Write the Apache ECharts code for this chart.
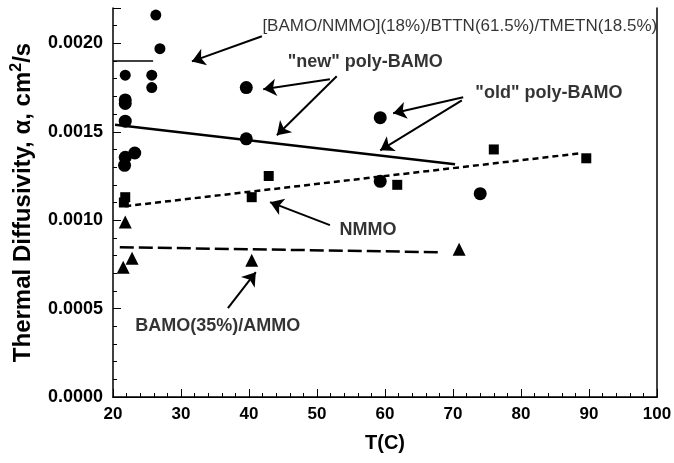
<!DOCTYPE html>
<html>
<head>
<meta charset="utf-8">
<script src="https://cdn.jsdelivr.net/npm/echarts@6/dist/echarts.min.js"></script>
<style>
  html, body { margin: 0; padding: 0; background: #fff; }
  #chart { width: 674px; height: 463px; }
</style>
</head>
<body>
<div id="chart"></div>
<script>
// Thermal diffusivity vs temperature for several energetic binders

// [BAMO/NMMO](18%)/BTTN(61.5%)/TMETN(18.5%)
const mixT = [26.3, 26.9, 25.7, 25.7, 21.8];
const mixV = [0.00216, 0.00197, 0.00182, 0.00175, 0.00182];
const mixFitT = [20, 25.9];
const mixFitV = [0.0019, 0.0019];

// "new" poly-BAMO
const newT = [21.8, 21.8, 21.8, 23.2, 21.8, 21.7, 39.6, 39.6];
const newV = [0.00168, 0.00166, 0.00156, 0.00138, 0.001356, 0.00131, 0.00175, 0.00146];
const newFitT = [20.3, 70.3];
const newFitV = [0.00154, 0.001316];

// "old" poly-BAMO
const oldT = [59.3, 59.3, 74.0];
const oldV = [0.00158, 0.00122, 0.00115];

// NMMO
const nmmoT = [21.8, 21.6, 40.4, 42.9, 61.8, 76.0, 89.6];
const nmmoV = [0.00113, 0.00110, 0.00113, 0.00125, 0.00120, 0.00140, 0.00135];
const nmmoFitT = [21.8, 88.7];
const nmmoFitV = [0.001079, 0.001378];

// BAMO(35%)/AMMO
const ammoT = [21.8, 21.5, 22.8, 40.4, 70.9];
const ammoV = [0.00099, 0.000734, 0.000785, 0.000774, 0.000836];
const ammoFitT = [21.0, 67.8];
const ammoFitV = [0.000847, 0.000819];

// Axis ticks
const xTicks = [20, 30, 40, 50, 60, 70, 80, 90, 100];
const yTicks = [0.0000, 0.0005, 0.0010, 0.0015, 0.0020];

// Text callouts and their arrows (data coordinates)
const labelText = ['[BAMO/NMMO](18%)/BTTN(61.5%)/TMETN(18.5%)', '"new" poly-BAMO', '"old" poly-BAMO', 'NMMO', 'BAMO(35%)/AMMO'];
const labelT = [71.0, 57.1, 84.1, 57.5, 35.4];
const labelV = [0.002096, 0.001893, 0.001718, 0.000944, 0.000401];
const labelBold = [false, true, true, true, true];
const labelSize = [17, 18, 18, 18, 18];
const arrowFrom = [[41.9, 0.00204], [51.9, 0.001797], [52.9, 0.001814], [71.5, 0.001695], [71.3, 0.001678], [51.9, 0.000972], [36.9, 0.000503]];
const arrowTo = [[31.6, 0.001898], [42.1, 0.00174], [44.1, 0.00148], [61.2, 0.001605], [59.3, 0.001395], [43.1, 0.001102], [41.0, 0.000706]];

const zip = (a, b) => a.map((v, i) => [v, b[i]]);
const font = 'Liberation Sans, Arial, Helvetica, sans-serif';
const ink = '#000';

function scatter(name, t, v, symbol, size) {
  return {
    name, type: 'scatter', data: zip(t, v), symbol, symbolSize: size,
    itemStyle: { color: ink, opacity: 1 }, z: 5
  };
}
function fit(name, t, v, type, width) {
  return {
    name, type: 'line', data: zip(t, v), showSymbol: false, symbol: 'none',
    lineStyle: { color: ink, width, type }, z: 4
  };
}

const chart = echarts.init(document.getElementById('chart'));
chart.setOption({
  backgroundColor: '#fff',
  animation: false,
  grid: { left: 113, right: 17, top: 8, bottom: 66, outerBoundsMode: 'none', containLabel: false },
  xAxis: [{
    type: 'value', min: 20, max: 100, interval: 10,
    name: 'T(C)', nameLocation: 'middle', nameGap: 36,
    nameTextStyle: { fontFamily: font, fontWeight: 'bold', fontSize: 20, color: ink },
    axisLine: { lineStyle: { color: ink, width: 1.5 } },
    axisTick: { inside: true, length: 8, lineStyle: { color: ink } },
    minorTick: { show: true, splitNumber: 5, length: 4, lineStyle: { color: ink } },
    axisLabel: { fontFamily: font, fontWeight: 'bold', fontSize: 17, color: ink, margin: 9,
      formatter: v => xTicks.includes(v) ? String(v) : '' },
    splitLine: { show: false }
  }, {
    type: 'value', min: 20, max: 100, position: 'top',
    axisLine: { show: true, lineStyle: { color: ink, width: 1 } },
    axisTick: { show: false }, axisLabel: { show: false }, splitLine: { show: false }
  }],
  yAxis: [{
    type: 'value', min: 0, max: 0.0022, interval: 0.0005,
    name: '{a|Thermal Diffusivity, α, cm}{s|2}{a|/s}', nameLocation: 'middle', nameGap: 76,
    nameTextStyle: {
      rich: {
        a: { fontFamily: font, fontWeight: 'bold', fontSize: 24, color: ink },
        s: { fontFamily: font, fontWeight: 'bold', fontSize: 16, color: ink, padding: [0, 0, 12, 0] }
      }
    },
    axisLine: { lineStyle: { color: ink, width: 1.5 } },
    axisTick: { inside: true, length: 8, lineStyle: { color: ink } },
    minorTick: { show: true, splitNumber: 5, length: 4, lineStyle: { color: ink } },
    axisLabel: { fontFamily: font, fontWeight: 'bold', fontSize: 18, color: ink, margin: 10,
      formatter: v => {
        const hit = yTicks.find(t => Math.abs(t - v) < 1e-9);
        return hit === undefined ? '' : hit.toFixed(4);
      } },
    splitLine: { show: false }
  }, {
    type: 'value', min: 0, max: 0.0022, position: 'right',
    axisLine: { show: true, lineStyle: { color: ink, width: 1.5 } },
    axisTick: { show: false }, axisLabel: { show: false }, splitLine: { show: false }
  }],
  series: [
    fit('mix fit', mixFitT, mixFitV, 'solid', 1.5),
    fit('new fit', newFitT, newFitV, 'solid', 2.5),
    fit('NMMO fit', nmmoFitT, nmmoFitV, [6, 4], 2.5),
    fit('AMMO fit', ammoFitT, ammoFitV, [14, 5], 2.5),
    scatter('mix', mixT, mixV, 'circle', 11),
    scatter('new', newT, newV, 'circle', 13),
    scatter('old', oldT, oldV, 'circle', 13),
    scatter('NMMO', nmmoT, nmmoV, 'rect', 10),
    scatter('AMMO', ammoT, ammoV, 'triangle', 13),
    {
      name: 'arrows', type: 'lines', coordinateSystem: 'cartesian2d', z: 6,
      symbol: ['none', 'arrow'], symbolSize: 13,
      lineStyle: { color: ink, width: 2, opacity: 1 },
      data: arrowFrom.map((f, i) => ({ coords: [f, arrowTo[i]] }))
    },
    {
      name: 'callouts', type: 'scatter', symbolSize: 0, z: 6,
      data: labelText.map((s, i) => ({
        value: [labelT[i], labelV[i]], name: s,
        label: { fontWeight: labelBold[i] ? 'bold' : 'normal', fontSize: labelSize[i] }
      })),
      label: {
        show: true, position: 'inside', formatter: p => p.name,
        fontFamily: font, color: ink
      }
    }
  ]
});
</script>
</body>
</html>
